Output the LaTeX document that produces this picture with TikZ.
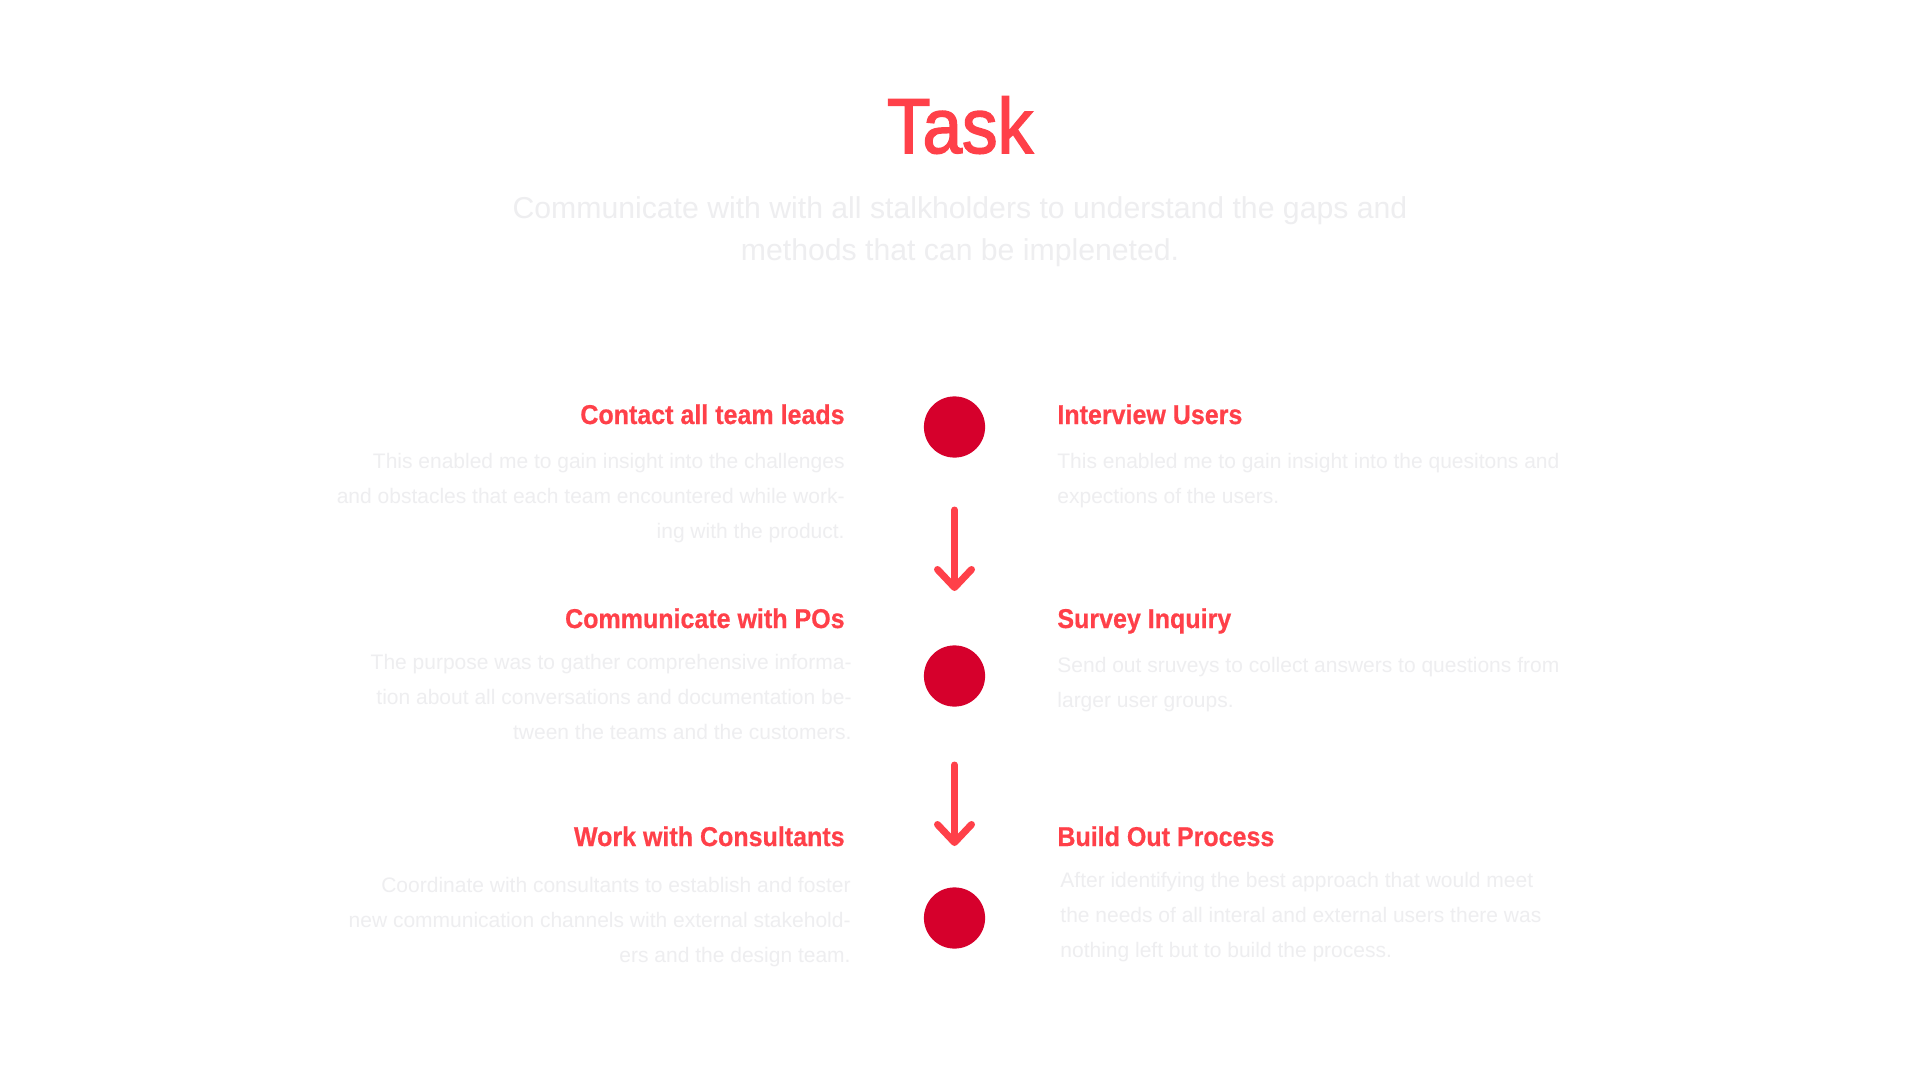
\documentclass[tikz,border=0pt]{standalone}
\usepackage{fontspec}
\setmainfont{Liberation Sans}
\newfontfamily\titlefont[FakeStretch=0.91,FakeBold=2]{Liberation Sans}
\newfontfamily\headfont[FakeStretch=0.92,FakeBold=0.6]{Liberation Sans}
\usetikzlibrary{arrows.meta}
\definecolor{headred}{HTML}{FF4049}
\definecolor{dotred}{HTML}{D6002C}
\definecolor{txtgray}{HTML}{EEEEF0}
\tikzset{
  titletxt/.style={font=\titlefont\fontsize{39}{39}\selectfont, text=headred, inner sep=0pt, anchor=base},
  subtxt/.style={font=\fontsize{15.1}{15.1}\selectfont, text=txtgray, inner sep=0pt, anchor=base},
  headL/.style={font=\headfont\bfseries\fontsize{13.6}{13.6}\selectfont, text=headred, inner sep=0pt, anchor=base east},
  headR/.style={headL, anchor=base west},
  bodyL/.style={font=\fontsize{10.5}{10.5}\selectfont, text=txtgray, inner sep=0pt, anchor=base east},
  bodyR/.style={bodyL, anchor=base west},
  dot/.style={circle, fill=dotred, minimum size=30.6pt, inner sep=0pt},
  flow/.style={draw=headred, line width=3.5pt, line cap=round,
    -{Straight Barb[length=9pt,width=17pt,round]}}
}
\begin{document}
\begin{tikzpicture}[x=0.5pt,y=-0.5pt]
\fill[white] (0,0) rectangle (1920,1080);
\useasboundingbox (0,0) rectangle (1920,1080);

\node[titletxt] (title) at (960,153) {Task};
\node[subtxt] (sub1) at (960,219) {Communicate with with all stalkholders to understand the gaps and};
\node[subtxt] (sub2) at (960,261) {methods that can be impleneted.};

% left column
\node[headL] (h1) at (845,424) {Contact all team leads};
\node[bodyL] (l1a) at (845,468) {This enabled me to gain insight into the challenges};
\node[bodyL] (l1b) at (845,503) {and obstacles that each team encountered while work-};
\node[bodyL] (l1c) at (845,538) {ing with the product.};

\node[headL] (h2) at (845,628) {Communicate with POs};
\node[bodyL] (l2a) at (852,669) {The purpose was to gather comprehensive informa-};
\node[bodyL] (l2b) at (852,704) {tion about all conversations and documentation be-};
\node[bodyL] (l2c) at (852,739) {tween the teams and the customers.};

\node[headL] (h3) at (845,846) {Work with Consultants};
\node[bodyL] (l3a) at (851,892) {Coordinate with consultants to establish and foster};
\node[bodyL] (l3b) at (851,927) {new communication channels with external stakehold-};
\node[bodyL] (l3c) at (851,962) {ers and the design team.};

% right column
\node[headR] (r1) at (1057,424) {Interview Users};
\node[bodyR] (r1a) at (1057,468) {This enabled me to gain insight into the quesitons and};
\node[bodyR] (r1b) at (1057,503) {expections of the users.};

\node[headR] (r2) at (1057,628) {Survey Inquiry};
\node[bodyR] (r2a) at (1057,672) {Send out sruveys to collect answers to questions from};
\node[bodyR] (r2b) at (1057,707) {larger user groups.};

\node[headR] (r3) at (1057,846) {Build Out Process};
\node[bodyR] (r3a) at (1060,887) {After identifying the best approach that would meet};
\node[bodyR] (r3b) at (1060,922) {the needs of all interal and external users there was};
\node[bodyR] (r3c) at (1060,957) {nothing left but to build the process.};

% dots
\node[dot] (d1) at (954.5,427) {};
\node[dot] (d2) at (954.5,676) {};
\node[dot] (d3) at (954.5,918) {};

% arrows
\coordinate (a1s) at (954.5,510);
\coordinate (a1e) at (954.5,591);
\coordinate (a2s) at (954.5,765);
\coordinate (a2e) at (954.5,846);
\draw[flow] (a1s) -- (a1e);
\draw[flow] (a2s) -- (a2e);
\end{tikzpicture}
\end{document}
